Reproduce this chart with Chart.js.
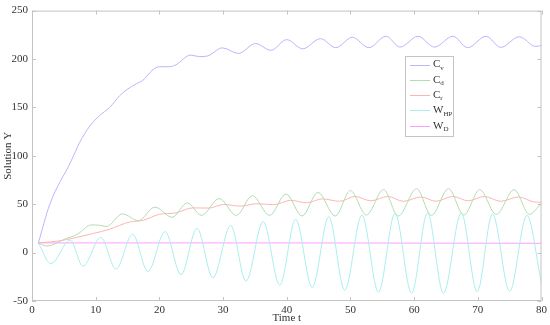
<!DOCTYPE html>
<html>
<head>
<meta charset="utf-8">
<script src="https://cdn.jsdelivr.net/npm/chart.js@4"></script>
<style>
body { margin: 0; background: #fff; }
#wrap { width: 550px; height: 325px; }
</style>
</head>
<body>
<div id="wrap"><canvas id="solChart" width="550" height="325"></canvas></div>
<script>
// series (time t, value)
var cvT = [1, 2.8, 6.1, 7.5, 9.1, 10.6, 12.2, 13.75, 14.8, 16.4, 17.4, 19, 20, 21.6, 22.6, 24.9, 26.25, 27.5, 29.9, 32.4, 35.1, 37.5, 40.0, 42.5, 45.3, 47.7, 50.3, 52.9, 55.6, 57.8, 60.6, 63.2, 66.1, 68.4, 71.3, 73.6, 76.5, 79.1, 80];
var cvY = [10, 50, 94, 114, 131, 141.5, 150, 162, 168, 174.5, 178, 189, 192, 192, 194, 204, 202.5, 203, 211.5, 205.7, 216, 209, 220, 210.5, 221, 211.7, 222.4, 211.7, 223.5, 212.3, 223.5, 212.3, 223.5, 211.7, 223.5, 212, 223, 213, 214];

var cdT = [1, 2.3, 5.4, 6.7, 7.5, 9.3, 10.6, 11.7, 14.2, 16.7, 19.3, 22.0, 24.4, 26.6, 29.4, 32.1, 34.6, 37.3, 39.9, 42.4, 44.9, 47.6, 50.0, 52.5, 55.2, 57.5, 60.4, 62.7, 65.4, 67.8, 70.3, 72.9, 75.7, 78.1, 80];
var cdY = [10, 6.8, 14.6, 17.6, 20.7, 28.6, 28.2, 26.9, 40, 33, 47, 36.5, 51.4, 38.5, 55.8, 38.4, 58.9, 38.4, 60.5, 37.8, 62.2, 37.8, 64, 38.8, 65, 37.8, 66, 38.4, 66, 38.8, 65, 39.5, 65, 39.5, 51];

var crT = [1, 4.4, 6.5, 9.6, 12.2, 15.3, 17.4, 20, 22.6, 25.2, 27.8, 30.1, 32.8, 35.3, 38.0, 40.6, 43.1, 45.6, 48.3, 50.7, 53.2, 55.9, 58.3, 61.1, 63.4, 66.1, 68.5, 71.0, 73.6, 76.4, 78.8, 80];
var crY = [10, 12.2, 15, 19.7, 24.2, 31.6, 33.3, 39.5, 41, 46.2, 46, 49.7, 48, 50.5, 49.5, 54, 51.5, 55.5, 53, 58, 53.5, 58, 53, 57.5, 53, 58, 53.5, 58, 53, 57.5, 52.4, 52];

var whpT = [1, 2.97, 6.0, 8.0, 10.8, 13.2, 15.8, 18.2, 20.9, 23.4, 25.9, 28.4, 31.2, 33.6, 36.3, 38.9, 41.4, 44.0, 46.6, 49.1, 51.8, 54.4, 57.0, 59.6, 62.1, 64.6, 67.4, 69.9, 72.3, 75.0, 77.7, 80];
var whpY = [10, -11.5, 13, -14, 15.6, -17, 19, -19.5, 21.7, -22.8, 25, -26, 28, -29.5, 32, -33.7, 34.4, -36, 37, -38.8, 38.8, -41, 40.5, -42, 41, -42, 41, -40.5, 40, -40, 38.5, -32];

var wdT = [1, 20, 40, 60, 80];
var wdY = [10, 10, 10, 9.8, 9.6];

var xTicks = [0, 10, 20, 30, 40, 50, 60, 70, 80];
var yTicks = [-50, 0, 50, 100, 150, 200, 250];

var names = [['C', 'v'], ['C', 'd'], ['C', 'r'], ['W', 'HP'], ['W', 'D']];
var colors = ['#b6b6ff', '#b2dcb2', '#ffb4b4', '#aaeeee', '#ff9eff'];

function pts(t, y) {
   var out = [];
   for (var i = 0; i < t.length; i++) {
      out.push({x: t[i], y: y[i]});
   }
   return out;
}

var series = [pts(cvT, cvY), pts(cdT, cdY), pts(crT, crY), pts(whpT, whpY), pts(wdT, wdY)];
var sets = [];
for (var i = 0; i < series.length; i++) {
   sets.push({
      label: names[i][0] + names[i][1],
      data: series[i],
      borderColor: colors[i],
      borderWidth: 1,
      pointRadius: 0,
      fill: false,
      cubicInterpolationMode: 'monotone'
   });
}

var serif = 'Liberation Serif';
var boxColor = '#c4c4c4';

// box round the plot with inward tick marks, like the original
var boxPlugin = {
   id: 'box',
   afterDatasetsDraw: function(chart) {
      var c = chart.ctx, a = chart.chartArea;
      var sx = chart.scales.x, sy = chart.scales.y;
      c.save();
      c.strokeStyle = boxColor;
      c.lineWidth = 1;
      c.strokeRect(a.left + 0.5, a.top + 0.5, a.right - a.left - 1, a.bottom - a.top - 1);
      c.beginPath();
      xTicks.forEach(function(v) {
         var px = Math.round(sx.getPixelForValue(v)) + 0.5;
         c.moveTo(px, a.bottom); c.lineTo(px, a.bottom - 4);
         c.moveTo(px, a.top); c.lineTo(px, a.top + 4);
      });
      yTicks.forEach(function(v) {
         var py = Math.round(sy.getPixelForValue(v)) + 0.5;
         c.moveTo(a.left, py); c.lineTo(a.left + 4, py);
         c.moveTo(a.right, py); c.lineTo(a.right - 4, py);
      });
      c.stroke();
      c.restore();
   }
};

// legend box with subscripts
var legendPlugin = {
   id: 'subLegend',
   afterDraw: function(chart) {
      var c = chart.ctx;
      var bx = 405, by = 56, bw = 48, bh = 80;
      c.save();
      c.fillStyle = '#fff';
      c.fillRect(bx, by, bw, bh);
      c.strokeStyle = boxColor;
      c.lineWidth = 1;
      c.strokeRect(bx + 0.5, by + 0.5, bw, bh);
      for (var i = 0; i < names.length; i++) {
         var ry = 64.5 + i * 15.3;
         c.strokeStyle = colors[i];
         c.beginPath();
         c.moveTo(410, Math.round(ry) + 0.5);
         c.lineTo(430, Math.round(ry) + 0.5);
         c.stroke();
         c.fillStyle = '#333';
         c.textBaseline = 'middle';
         c.font = '11px "' + serif + '"';
         c.fillText(names[i][0], 433, ry);
         var w = c.measureText(names[i][0]).width;
         c.font = '7px "' + serif + '"';
         c.fillText(names[i][1], 433 + w, ry + 3.5);
      }
      c.restore();
   }
};

var ctx = document.getElementById('solChart').getContext('2d');
var solChart = new Chart(ctx, {
   type: 'line',
   data: { datasets: sets },
   plugins: [boxPlugin, legendPlugin],
   options: {
      responsive: false,
      animation: false,
      devicePixelRatio: 1,
      layout: { padding: { top: 7, right: 7, left: 0, bottom: 0 } },
      plugins: { legend: { display: false }, tooltip: { enabled: false } },
      scales: {
         x: {
            type: 'linear',
            min: 0, max: 80,
            afterFit: function(s) { s.height = 24; },
            afterBuildTicks: function(s) { s.ticks = xTicks.map(function(v) { return {value: v}; }); },
            grid: { display: false, drawTicks: false },
            border: { display: false },
            ticks: { color: '#333', padding: 3, maxRotation: 0, font: { family: serif, size: 11 } },
            title: { display: true, text: 'Time t', color: '#333', padding: { top: 0, bottom: 0 }, font: { family: serif, size: 11 } }
         },
         y: {
            type: 'linear',
            min: -50, max: 250,
            afterFit: function(s) { s.width = 32; },
            afterBuildTicks: function(s) { s.ticks = yTicks.map(function(v) { return {value: v}; }); },
            grid: { display: false, drawTicks: false },
            border: { display: false },
            ticks: { color: '#333', padding: 4, font: { family: serif, size: 11 } },
            title: { display: true, text: 'Solution Y', color: '#333', padding: { top: 2, bottom: 0 }, font: { family: serif, size: 11 } }
         }
      }
   }
});
</script>
</body>
</html>
